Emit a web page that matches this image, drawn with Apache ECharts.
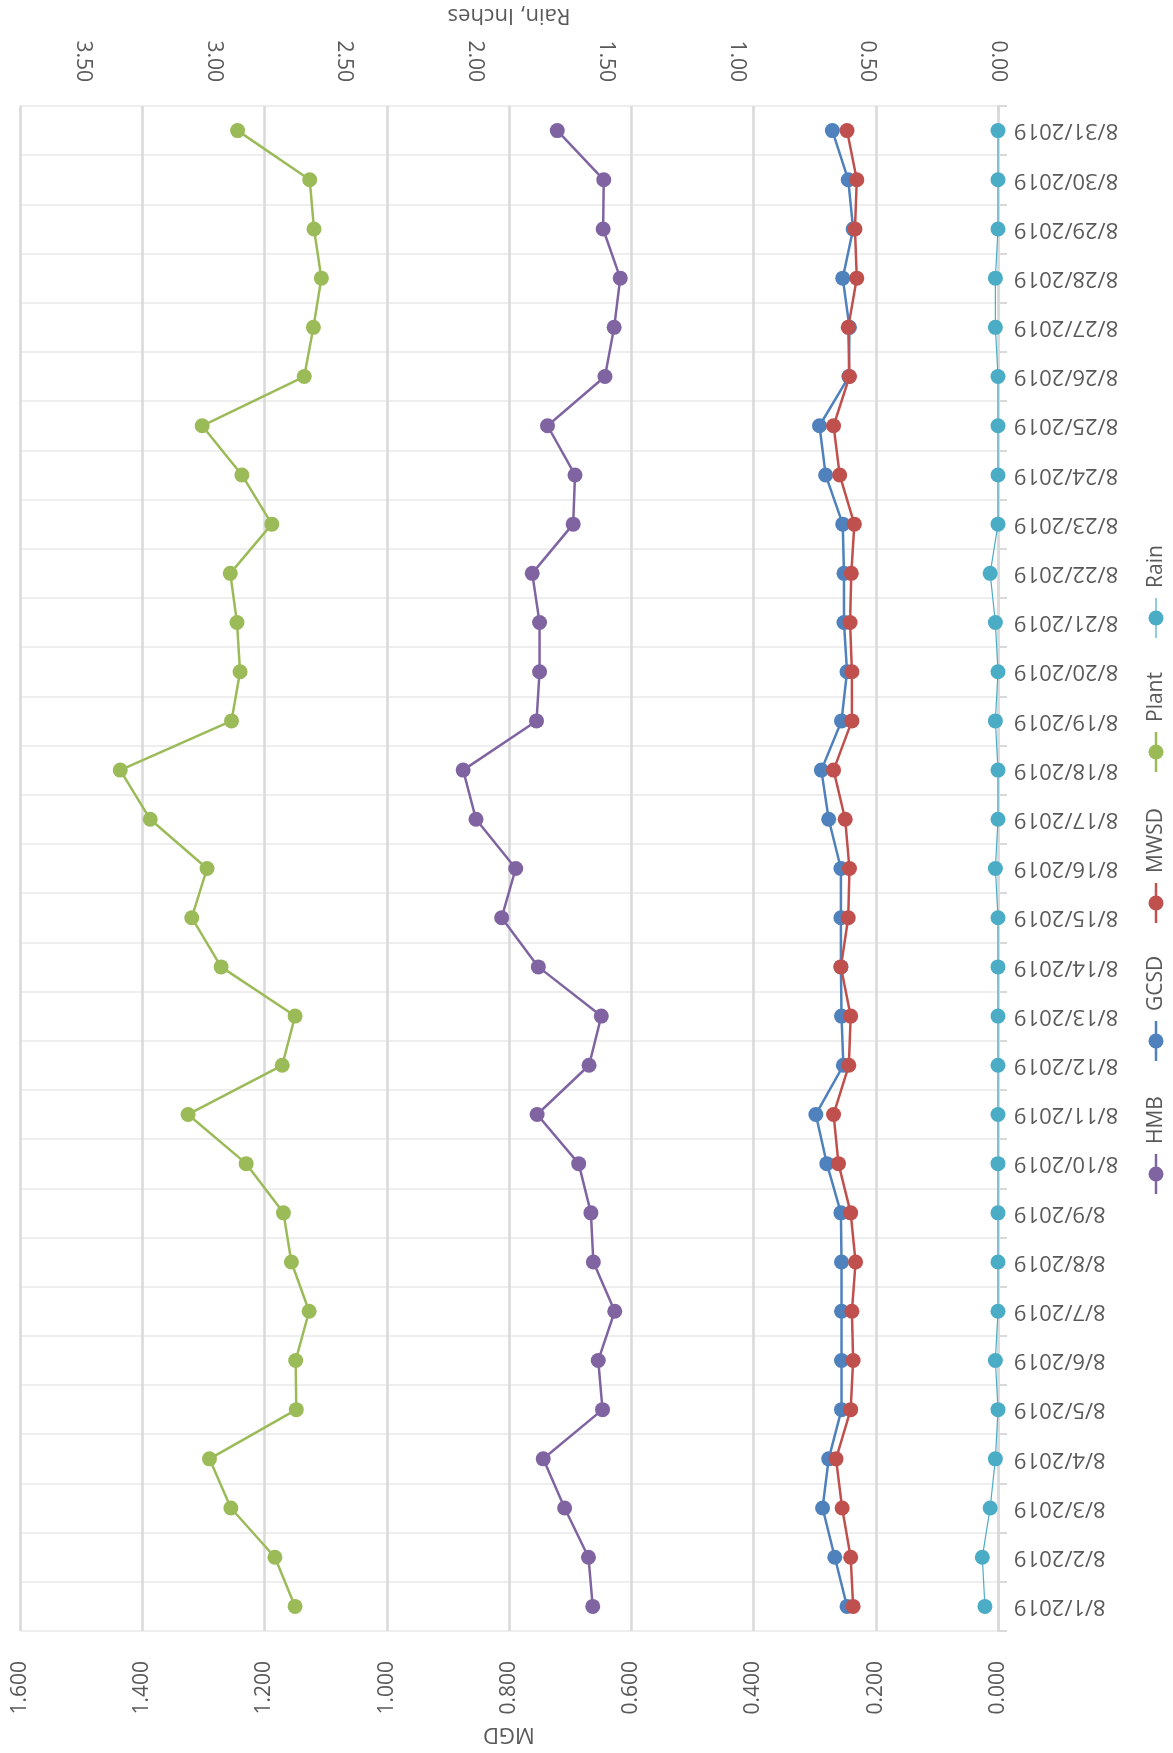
<!DOCTYPE html>
<html>
<head>
<meta charset="utf-8">
<script src="https://cdn.jsdelivr.net/npm/echarts@6/dist/echarts.min.js"></script>
<style>
  html, body { margin: 0; padding: 0; background: #ffffff; }
  #chart { width: 1173px; height: 1753px; }
</style>
</head>
<body>
<div id="chart"></div>
<script>
// Daily flows (MGD) and rainfall (inches), August 2019
const dates = [
  '8/1/2019', '8/2/2019', '8/3/2019', '8/4/2019', '8/5/2019', '8/6/2019', '8/7/2019', '8/8/2019',
  '8/9/2019', '8/10/2019', '8/11/2019', '8/12/2019', '8/13/2019', '8/14/2019', '8/15/2019', '8/16/2019',
  '8/17/2019', '8/18/2019', '8/19/2019', '8/20/2019', '8/21/2019', '8/22/2019', '8/23/2019', '8/24/2019',
  '8/25/2019', '8/26/2019', '8/27/2019', '8/28/2019', '8/29/2019', '8/30/2019', '8/31/2019'
];
const hmb = [
  0.663, 0.670, 0.709, 0.744, 0.647, 0.654, 0.627, 0.662, 0.666, 0.686, 0.754, 0.669, 0.649, 0.752, 0.812, 0.789,
  0.854, 0.875, 0.755, 0.750, 0.750, 0.762, 0.695, 0.692, 0.737, 0.643, 0.628, 0.618, 0.646, 0.645, 0.721
];
const gcsd = [
  0.247, 0.267, 0.287, 0.277, 0.256, 0.256, 0.256, 0.256, 0.257, 0.280, 0.298, 0.253, 0.256, 0.257, 0.257, 0.257,
  0.277, 0.289, 0.256, 0.247, 0.252, 0.252, 0.254, 0.282, 0.292, 0.244, 0.243, 0.254, 0.237, 0.245, 0.271
];
const mwsd = [
  0.237, 0.241, 0.255, 0.265, 0.241, 0.237, 0.239, 0.233, 0.241, 0.261, 0.269, 0.244, 0.241, 0.257, 0.245, 0.243,
  0.250, 0.269, 0.239, 0.239, 0.242, 0.240, 0.235, 0.259, 0.269, 0.243, 0.245, 0.231, 0.234, 0.231, 0.247
];
const plant = [
  1.150, 1.183, 1.255, 1.290, 1.148, 1.149, 1.127, 1.156, 1.169, 1.230, 1.325, 1.171, 1.150, 1.271, 1.319, 1.294,
  1.387, 1.436, 1.254, 1.240, 1.245, 1.256, 1.188, 1.237, 1.302, 1.135, 1.120, 1.107, 1.119, 1.126, 1.244
];
const rain = [
  0.05, 0.06, 0.03, 0.01, 0.00, 0.01, 0.00, 0.00, 0.00, 0.00, 0.00, 0.00, 0.00, 0.00, 0.00, 0.01,
  0.00, 0.00, 0.01, 0.00, 0.01, 0.03, 0.00, 0.00, 0.00, 0.00, 0.01, 0.01, 0.00, 0.00, 0.00
];

// Axis ranges
const mgdMin = 0, mgdMax = 1.6, mgdStep = 0.2;
const rainMin = 0, rainMax = 3.74, rainStep = 0.5;

const TEXT = '#595959';
const FONT = 'Open Sans';
const colors = { HMB: '#8064A2', GCSD: '#4F81BD', MWSD: '#C0504D', Plant: '#9BBB59', Rain: '#4BACC6' };

function lineSeries(name, data, axis, width) {
  return {
    name: name,
    type: 'line',
    xAxisIndex: axis,
    data: data,
    symbol: 'circle',
    symbolSize: 15,
    showAllSymbol: true,
    animation: false,
    itemStyle: { color: colors[name] },
    lineStyle: { color: colors[name], width: width }
  };
}

// Legend drawn sideways along the right edge, reading bottom to top
const legendOrder = ['HMB', 'GCSD', 'MWSD', 'Plant', 'Rain'];
const legendStops = [1174, 1041, 903, 752, 618];
const legendGraphic = legendOrder.map((name, i) => ({
  type: 'group',
  x: 1156,
  y: legendStops[i],
  rotation: Math.PI / 2,
  children: [
    { type: 'line', shape: { x1: -20, y1: 0, x2: 20, y2: 0 },
      style: { stroke: colors[name], lineWidth: name === 'Rain' ? 1.2 : 2.5 } },
    { type: 'circle', shape: { cx: 0, cy: 0, r: 7.5 }, style: { fill: colors[name] } },
    { type: 'text', x: 30, y: 0,
      style: { text: name, fill: TEXT, fontSize: 21, fontFamily: FONT, align: 'left', verticalAlign: 'middle' } }
  ]
}));

const chart = echarts.init(document.getElementById('chart'), null, { renderer: 'canvas' });
chart.setOption({
  backgroundColor: '#ffffff',
  animation: false,
  textStyle: { fontFamily: FONT },
  grid: { left: 20, right: 175, top: 106, bottom: 122, containLabel: false, outerBoundsMode: 'none' },
  xAxis: [
    {
      type: 'value',
      position: 'bottom',
      inverse: true,
      min: mgdMin, max: mgdMax, interval: mgdStep,
      name: 'MGD',
      nameLocation: 'middle',
      nameRotate: 180,
      nameGap: 92,
      nameTextStyle: { color: TEXT, fontSize: 22, fontFamily: FONT },
      axisLine: { show: false },
      axisTick: { show: false },
      splitLine: { show: true, lineStyle: { color: '#D9D9D9', width: 2.5 } },
      axisLabel: {
        rotate: 90, margin: 30, color: TEXT, fontSize: 21, fontFamily: FONT,
        formatter: v => v.toFixed(3)
      }
    },
    {
      type: 'value',
      position: 'top',
      inverse: true,
      min: rainMin, max: rainMax, interval: rainStep,
      name: 'Rain, Inches',
      nameLocation: 'middle',
      nameRotate: 180,
      nameGap: 80,
      nameTextStyle: { color: TEXT, fontSize: 22, fontFamily: FONT },
      axisLine: { show: false },
      axisTick: { show: false },
      splitLine: { show: false },
      axisLabel: {
        rotate: 90, margin: 24, color: TEXT, fontSize: 21, fontFamily: FONT,
        showMaxLabel: false,
        formatter: v => v.toFixed(2)
      }
    }
  ],
  yAxis: {
    type: 'category',
    position: 'right',
    data: dates,
    boundaryGap: true,
    axisLine: { show: true, lineStyle: { color: '#D9D9D9', width: 2.5 } },
    axisTick: { show: true, length: 9, lineStyle: { color: '#D9D9D9', width: 2 } },
    splitLine: { show: true, lineStyle: { color: '#EEEEEE', width: 2 } },
    axisLabel: {
      rotate: 180, margin: 16, color: TEXT, fontSize: 22, fontFamily: FONT, interval: 0
    }
  },
  series: [
    lineSeries('HMB', hmb, 0, 2.5),
    lineSeries('GCSD', gcsd, 0, 2.5),
    lineSeries('MWSD', mwsd, 0, 2.5),
    lineSeries('Plant', plant, 0, 2.5),
    lineSeries('Rain', rain, 1, 1.2)
  ],
  graphic: legendGraphic
});
</script>
</body>
</html>
